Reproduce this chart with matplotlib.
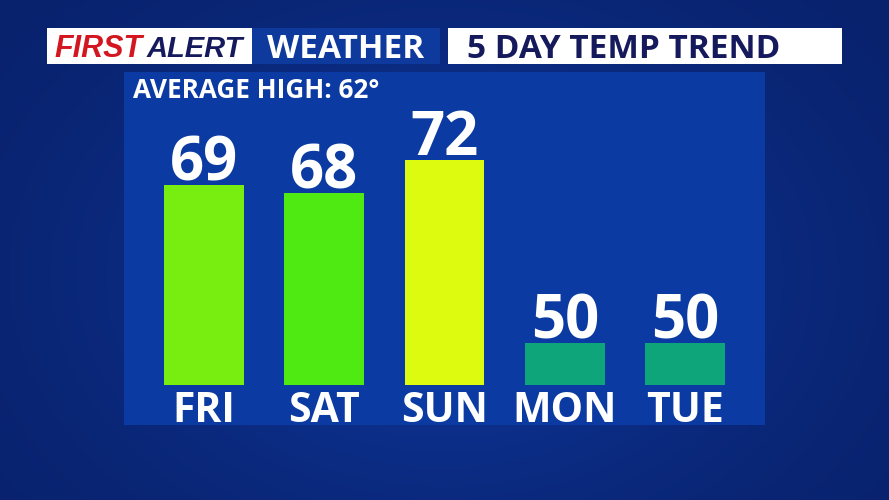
import matplotlib
matplotlib.use("Agg")
import matplotlib.pyplot as plt
import matplotlib.transforms as mtransforms
from matplotlib.patches import Rectangle
from matplotlib.colors import LinearSegmentedColormap
import numpy as np

days = ["FRI", "SAT", "SUN", "MON", "TUE"]
highs = [69, 68, 72, 50, 50]
bar_colors = ["#77ee10", "#4fea12", "#dcfb0e", "#0fa57a", "#0fa57a"]
baseline = 45
title_left = "WEATHER"
title_right = "5 DAY TEMP TREND"
avg_label = "AVERAGE HIGH: 62°"

W, H = 889, 500
fig = plt.figure(figsize=(W / 100, H / 100), dpi=100)
fig.patch.set_facecolor("#0a2a7c")

# background gradient
bg = fig.add_axes([0, 0, 1, 1])
yy, xx = np.mgrid[0:1:200j, 0:1:300j]
grad = 0.55 + 0.25 * np.exp(-((xx - 0.5) ** 2 / 0.15 + (yy - 0.55) ** 2 / 0.25))
cm = LinearSegmentedColormap.from_list("bgc", ["#071d62", "#0e3598"])
bg.imshow(grad, cmap=cm, aspect="auto", extent=[0, 1, 0, 1], vmin=0.5, vmax=0.8)
bg.set_axis_off()

def fx(px):
    return px / W

def fy(py):
    return 1 - py / H

FONT = "Open Sans"

# header boxes
fig.patches.append(Rectangle((fx(47), fy(64)), fx(252) - fx(47), (64 - 28) / H,
                             transform=fig.transFigure, facecolor="white", edgecolor="none", zorder=2))
fig.patches.append(Rectangle((fx(252), fy(64)), fx(440) - fx(252), (64 - 28) / H,
                             transform=fig.transFigure, facecolor="#0d3a9c", edgecolor="none", zorder=2))
fig.patches.append(Rectangle((fx(448), fy(64)), fx(842) - fx(448), (64 - 28) / H,
                             transform=fig.transFigure, facecolor="white", edgecolor="none", zorder=2))

fig.text(fx(54), fy(57), "FIRST", color="#d3161f", fontsize=22, fontweight="bold",
         style="italic", family="Liberation Sans", va="baseline", ha="left", zorder=3)
fig.text(fx(147), fy(57), "ALERT", color="#151a5c", fontsize=21, fontweight="bold",
         style="italic", family="Liberation Sans", va="baseline", ha="left", zorder=3)
fig.text(fx(346), fy(57.5), title_left, color="white", fontsize=24, fontweight="bold",
         family=FONT, va="baseline", ha="center", zorder=3)
fig.text(fx(467), fy(57.5), title_right, color="#151a5c", fontsize=24, fontweight="bold",
         family=FONT, va="baseline", ha="left", zorder=3)

# main panel axes
ax = fig.add_axes([fx(124), fy(425), (765 - 124) / W, (425 - 72) / H])
ax.set_facecolor("#0b3aa2")
for s in ax.spines.values():
    s.set_visible(False)
ax.set_xticks([])
ax.set_yticks([])

px_per_deg = 8.33
ax.set_xlim(-0.665, 4.665)
ax.set_ylim(baseline - 40 / px_per_deg, baseline + 313 / px_per_deg)

x = np.arange(len(days))
ax.bar(x, [h - baseline for h in highs], bottom=baseline, width=0.665,
       color=bar_colors, edgecolor="none", zorder=2)

for xi, h in zip(x, highs):
    ax.annotate(str(h), (xi, h), xytext=(0, 3.5), textcoords="offset points",
                ha="center", va="baseline", color="white", fontsize=43,
                fontweight="bold", family=FONT, zorder=3)

trans = mtransforms.blended_transform_factory(ax.transData, ax.transAxes)
for xi, d in zip(x, days):
    ax.text(xi, 3 / 353, d, transform=trans, ha="center", va="baseline",
            color="white", fontsize=29.5, fontweight="bold", family=FONT, zorder=3)

fig.text(fx(133), fy(98), avg_label, color="white", fontsize=18.8, fontweight="bold",
         family=FONT, va="baseline", ha="left", zorder=3)

fig.savefig("out.png", dpi=100, facecolor=fig.get_facecolor())
